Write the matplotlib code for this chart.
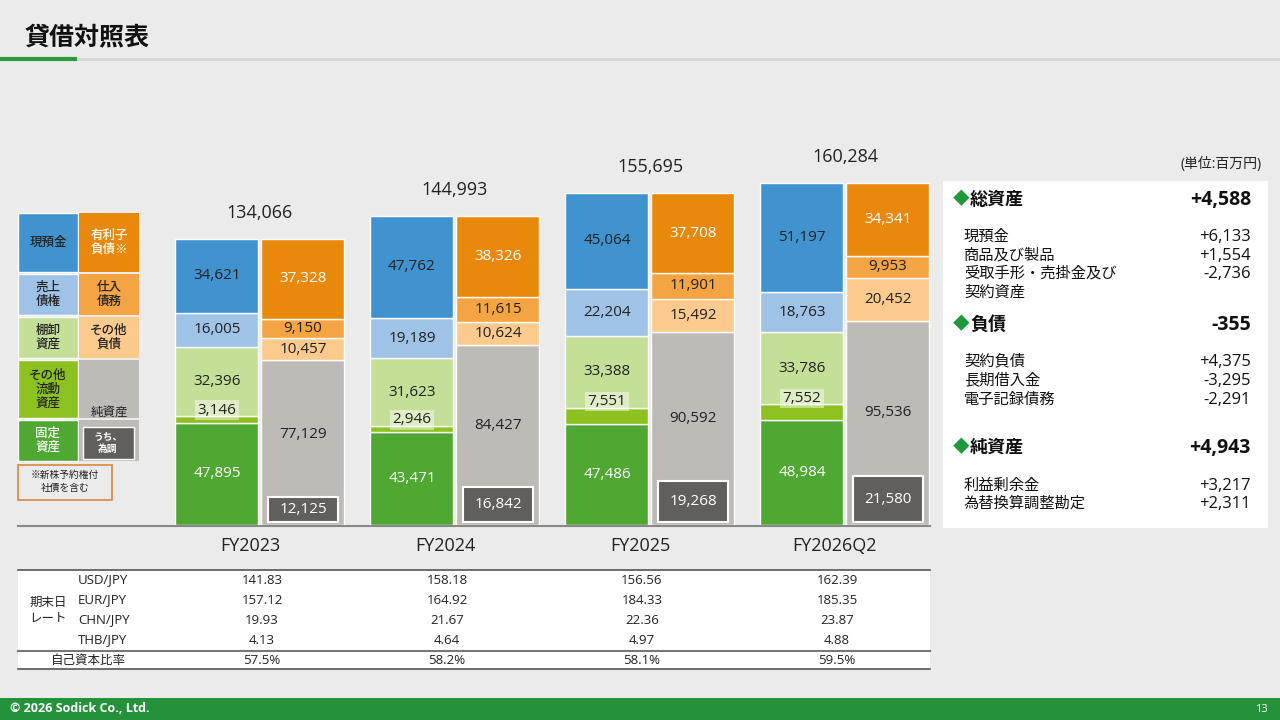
import matplotlib.pyplot as plt
from matplotlib.patches import Rectangle

plt.rcParams['font.family'] = ['Open Sans', 'Noto Sans CJK JP', 'DejaVu Sans']

# --- Data ---
periods = ['FY2023', 'FY2024', 'FY2025', 'FY2026Q2']
totals = [134066, 144993, 155695, 160284]
# assets, bottom to top
fixed_assets = [47895, 43471, 47486, 48984]
other_current = [3146, 2946, 7551, 7552]
inventory = [32396, 31623, 33388, 33786]
receivables = [16005, 19189, 22204, 18763]
cash = [34621, 47762, 45064, 51197]
# liabilities + net assets, bottom to top
net_assets = [77129, 84427, 90592, 95536]
other_liab = [10457, 10624, 15492, 20452]
payables = [9150, 11615, 11901, 9953]
interest_debt = [37328, 38326, 37708, 34341]
fx_adjust = [12125, 16842, 19268, 21580]

rate_names = ['USD/JPY', 'EUR/JPY', 'CHN/JPY', 'THB/JPY']
rates = [['141.83', '158.18', '156.56', '162.39'],
         ['157.12', '164.92', '184.33', '185.35'],
         ['19.93', '21.67', '22.36', '23.87'],
         ['4.13', '4.64', '4.97', '4.88']]
equity_ratio = ['57.5%', '58.2%', '58.1%', '59.5%']

changes = [
    ('head', '総資産', '+4,588'),
    ('item', '現預金', '+6,133'),
    ('item', '商品及び製品', '+1,554'),
    ('item', '受取手形・売掛金及び', '-2,736'),
    ('item', '契約資産', ''),
    ('head', '負債', '-355'),
    ('item', '契約負債', '+4,375'),
    ('item', '長期借入金', '-3,295'),
    ('item', '電子記録債務', '-2,291'),
    ('head', '純資産', '+4,943'),
    ('item', '利益剰余金', '+3,217'),
    ('item', '為替換算調整勘定', '+2,311'),
]
change_y = [200, 237, 256, 274, 293, 325, 362, 381, 400, 448, 486, 504]

C_CASH = '#4193d0'
C_REC = '#9fc3e7'
C_INV = '#c4df97'
C_OTH = '#8cc21f'
C_FIX = '#4fa832'
C_DEBT = '#e9890c'
C_PAY = '#f5a443'
C_OLIAB = '#fbca8c'
C_NET = '#bebbb7'
C_FX = '#605f5c'
BG = '#ebebeb'

W, H = 1280, 720
fig = plt.figure(figsize=(12.8, 7.2), dpi=100, facecolor=BG)

# overlay axes in pixel coordinates
ov = fig.add_axes([0, 0, 1, 1])
ov.set_xlim(0, W)
ov.set_ylim(H, 0)
ov.axis('off')

# chart axes: pixels x 170..935, y 125..525
x0, x1, ytop, ybot = 170, 935, 125, 525
ax = fig.add_axes([x0 / W, 1 - ybot / H, (x1 - x0) / W, (ybot - ytop) / H])
ax.set_facecolor('none')
scale = 342 / 160284
ax.set_xlim(x0, x1)
ax.set_ylim(0, (ybot - ytop) / scale)
ax.axis('off')

centers = [260 + 195 * i for i in range(4)]
xa = [c - 43 for c in centers]
xl = [c + 43 for c in centers]
bw = 83


def stack(xs, layers):
    bottom = [0] * len(xs)
    out = []
    for vals, color in layers:
        ax.bar(xs, vals, bw, bottom=bottom, color=color, edgecolor='white', linewidth=1)
        out.append((list(bottom), vals))
        bottom = [b + v for b, v in zip(bottom, vals)]
    return out


a_seg = stack(xa, [(fixed_assets, C_FIX), (other_current, C_OTH), (inventory, C_INV),
                   (receivables, C_REC), (cash, C_CASH)])
l_seg = stack(xl, [(net_assets, C_NET), (other_liab, C_OLIAB), (payables, C_PAY),
                   (interest_debt, C_DEBT)])
ax.bar(xl, fx_adjust, 70, bottom=[1200] * 4, color=C_FX, edgecolor='white', linewidth=1.5)

fs = 11
a_colors = ['white', '#222222', '#222222', '#222222', '#222222']
for k, (bots, vals) in enumerate(a_seg):
    for i in range(4):
        y = bots[i] + vals[i] / 2
        if k == 1:
            y = bots[i] + vals[i] + 2800
            ax.text(xa[i], y, f'{vals[i]:,}', ha='center', va='center', fontsize=fs,
                    color='#222222', bbox=dict(boxstyle='square,pad=0.15',
                                               fc='white', ec='none', alpha=0.45))
            continue
        ax.text(xa[i], y, f'{vals[i]:,}', ha='center', va='center', fontsize=fs,
                color=a_colors[k])
l_colors = ['#222222', '#222222', '#222222', 'white']
for k, (bots, vals) in enumerate(l_seg):
    for i in range(4):
        y = bots[i] + vals[i] / 2
        if k == 0:
            y = bots[i] + vals[i] * 0.55
        ax.text(xl[i], y, f'{vals[i]:,}', ha='center', va='center', fontsize=fs,
                color=l_colors[k])
for i in range(4):
    ax.text(xl[i], 1200 + fx_adjust[i] / 2, f'{fx_adjust[i]:,}', ha='center', va='center',
            fontsize=fs, color='white')
    ax.text(centers[i], totals[i] + 12000, f'{totals[i]:,}', ha='center', va='center',
            fontsize=13, color='#222222')

# baseline and category labels
ov.plot([18, 930], [526, 526], color='#888888', lw=1.5)
for i, p in enumerate(periods):
    ov.text(centers[i] - 10, 546, p, ha='center', va='center', fontsize=13, color='#222222')

# header
ov.text(25, 38, '貸借対照表', fontsize=18, fontweight='bold', va='center', color='#111111')
ov.plot([0, W], [59, 59], color='#d6d6d6', lw=2)
ov.plot([0, 75], [59, 59], color='#2a9a3c', lw=3)

# legend grid
leg = [
    (213, 272, C_CASH, '現預金', '#222', C_DEBT, '有利子\n負債※', 'white'),
    (274, 315, C_REC, '売上\n債権', '#222', C_PAY, '仕入\n債務', '#222'),
    (317, 358, C_INV, '棚卸\n資産', '#222', C_OLIAB, 'その他\n負債', '#222'),
    (360, 418, C_OTH, 'その他\n流動\n資産', '#222', C_NET, '', '#222'),
    (420, 461, C_FIX, '固定\n資産', 'white', C_NET, '', '#222'),
]
for y0, y1, c1, t1, tc1, c2, t2, tc2 in leg:
    ov.add_patch(Rectangle((18, y0), 60, y1 - y0, fc=c1, ec='white', lw=1))
    ov.add_patch(Rectangle((79, y0), 60, y1 - y0, fc=c2, ec='none'))
    ov.text(48, (y0 + y1) / 2, t1, ha='center', va='center', fontsize=9, color=tc1,
            fontweight='medium', linespacing=1.1)
    if t2:
        ov.text(109, (y0 + y1) / 2, t2, ha='center', va='center', fontsize=9, color=tc2,
                fontweight='medium', linespacing=1.1)
ov.text(109, 412, '純資産', ha='center', va='center', fontsize=9, color='#222')
ov.add_patch(Rectangle((83, 427), 51, 32, fc=C_FX, ec='white', lw=1))
ov.text(108, 443, 'うち、\n為調', ha='center', va='center', fontsize=7, color='white',
        fontweight='bold', linespacing=1.1)
ov.add_patch(Rectangle((18, 465), 94, 35, fc=BG, ec='#d9883e', lw=1.2))
ov.text(65, 482, '※新株予約権付\n社債を含む', ha='center', va='center', fontsize=7,
        color='#222', linespacing=1.2)

# right panel
ov.text(1262, 164, '(単位:百万円)', ha='right', va='center', fontsize=10, color='#222')
ov.add_patch(Rectangle((943, 181), 325, 347, fc='white', ec='none'))
for (kind, label, val), y in zip(changes, change_y):
    if kind == 'head':
        ov.text(953, y, '◆', ha='left', va='center', fontsize=12, color='#1e9a3a')
        ov.text(970, y, label, ha='left', va='center', fontsize=13, fontweight='bold',
                color='#111')
        ov.text(1251, y, val, ha='right', va='center', fontsize=14, fontweight='bold',
                color='#111')
    else:
        ov.text(964, y, label, ha='left', va='center', fontsize=11, color='#111')
        ov.text(1251, y, val, ha='right', va='center', fontsize=12, color='#111')

# rates table
ov.plot([18, 930], [570, 570], color='#555555', lw=1.2)
ov.plot([18, 930], [651, 651], color='#777777', lw=1.5)
ov.plot([18, 930], [669, 669], color='#555555', lw=1.2)
ov.add_patch(Rectangle((18, 570), 912, 99, fc='white', ec='none', zorder=0))
ov.text(48, 610, '期末日\nレート', ha='center', va='center', fontsize=9, color='#222',
        linespacing=1.3)
col_x = [262, 447, 642, 837]
for r, name in enumerate(rate_names):
    y = 580 + r * 20
    ov.text(78, y, name, ha='left', va='center', fontsize=9.5, color='#222')
    for j in range(4):
        ov.text(col_x[j], y, rates[r][j], ha='center', va='center', fontsize=9.5, color='#222')
ov.text(88, 660, '自己資本比率', ha='center', va='center', fontsize=9, color='#222')
for j in range(4):
    ov.text(col_x[j], 660, equity_ratio[j], ha='center', va='center', fontsize=9.5, color='#222')

# footer
ov.add_patch(Rectangle((0, 698), W, 22, fc='#23923a', ec='none'))
ov.text(10, 709, '© 2026 Sodick Co., Ltd.', ha='left', va='center', fontsize=9,
        color='white', fontweight='bold')
ov.text(1268, 709, '13', ha='right', va='center', fontsize=8, color='white')

fig.savefig('out.png', dpi=100, facecolor=BG)
